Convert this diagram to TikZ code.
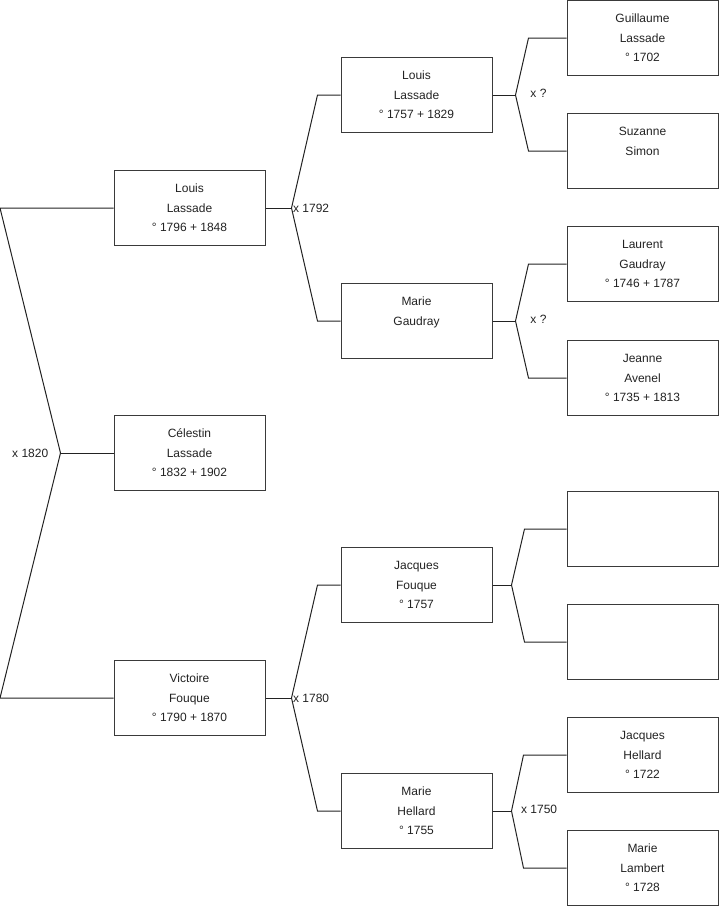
\documentclass[tikz,border=0pt]{standalone}
\usepackage{fontspec}
\setmainfont{Liberation Sans}
\usetikzlibrary{positioning,calc}
\definecolor{treeink}{HTML}{222222}
\definecolor{boxink}{HTML}{3A3A3A}

\begin{document}
\begin{tikzpicture}[x=0.75pt,y=-0.75pt,
  person/.style={draw=boxink, line width=0.75pt, minimum width=113.25pt, minimum height=56.25pt, inner sep=0pt, align=center, font=\fontsize{9}{14.6}\selectfont, text=treeink},
  wire/.style={draw=treeink, line width=0.75pt},
  union/.style={font=\fontsize{9}{11}\selectfont, text=treeink, inner sep=1pt},
]
\useasboundingbox (0,0) rectangle (719,908);
\coordinate (margin) at (0,0);

% Generation 1
\node[person] (louisA)   at (189.5,208) {Louis\\Lassade\\° 1796 + 1848};
\node[person] (celestin) at (189.5,453) {Célestin\\Lassade\\° 1832 + 1902};
\node[person] (victoire) at (189.5,698) {Victoire\\Fouque\\° 1790 + 1870};

% Generation 2
\node[person] (louisB)   at (416.5,95)  {Louis\\Lassade\\° 1757 + 1829};
\node[person] (marieG)   at (416.5,321) {Marie\\Gaudray\\~};
\node[person] (jacquesF) at (416.5,585) {Jacques\\Fouque\\° 1757};
\node[person] (marieH)   at (416.5,811) {Marie\\Hellard\\° 1755};

% Generation 3
\node[person] (guillaume) at (642.5,38)  {Guillaume\\Lassade\\° 1702};
\node[person] (suzanne)   at (642.5,151) {Suzanne\\Simon\\~};
\node[person] (laurent)   at (642.5,264) {Laurent\\Gaudray\\° 1746 + 1787};
\node[person] (jeanne)    at (642.5,378) {Jeanne\\Avenel\\° 1735 + 1813};
\node[person] (blankA)    at (642.5,529) {};
\node[person] (blankB)    at (642.5,642) {};
\node[person] (jacquesH)  at (642.5,755) {Jacques\\Hellard\\° 1722};
\node[person] (marieL)    at (642.5,868) {Marie\\Lambert\\° 1728};

% Root couple, drawn back to the left margin
\draw[wire] (celestin.west) -- ++(-53,0) coordinate (v-celestin);
\draw[wire] (v-celestin) -- (louisA.west -| margin) -- (louisA.west);
\draw[wire] (v-celestin) -- (victoire.west -| margin) -- (victoire.west);
\node[union, left=8pt of v-celestin] (m-celestin) {x 1820};

% Parent forks: child / father / mother / stem / tip
\foreach \c/\f/\m/\s/\t in {louisA/louisB/marieG/26/23, victoire/jacquesF/marieH/26/23,
    louisB/guillaume/suzanne/23/38, marieG/laurent/jeanne/23/38,
    jacquesF/blankA/blankB/19/42, marieH/jacquesH/marieL/19/43} {
  \draw[wire] (\c.east) -- ++(\s,0) coordinate (v-\c);
  \draw[wire] (v-\c) -- ($(\f.west)+(-\t,0)$) -- (\f.west);
  \draw[wire] (v-\c) -- ($(\m.west)+(-\t,0)$) -- (\m.west);
}

% Marriage labels
\node[union, right=0pt of v-louisA]   (m-louisA)   {x 1792};
\node[union, right=0pt of v-victoire] (m-victoire) {x 1780};
\node[union, right=10pt of v-louisB, yshift=1.5pt] (m-louisB) {x ?};
\node[union, right=10pt of v-marieG, yshift=1.5pt] (m-marieG) {x ?};
\node[union, right=6pt of v-marieH, yshift=1.5pt]  (m-marieH) {x 1750};
\end{tikzpicture}
\end{document}
